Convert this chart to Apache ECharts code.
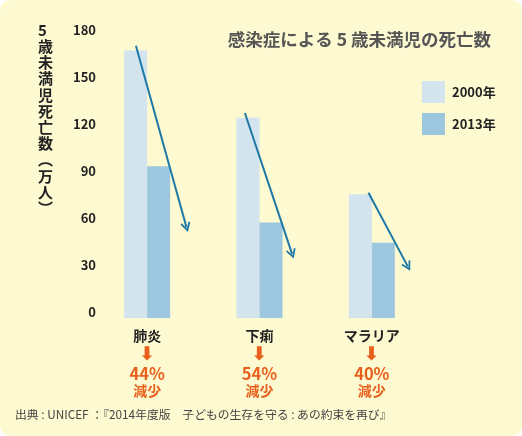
<!DOCTYPE html>
<html lang="ja">
<head>
<meta charset="UTF-8">
<title>感染症による5歳未満児の死亡数</title>
<script src="https://cdn.jsdelivr.net/npm/echarts@6/dist/echarts.min.js"></script>
<style>
    html, body {margin: 0; padding: 0; background: #fff;}
    #main {width: 522px; height: 436px; background: #fdf9d0; border-radius: 10px;}
</style>
</head>
<body>
<div id="main"></div>
<script type="text/javascript">
    var categories = ['肺炎', '下痢', 'マラリア'];
    var deaths2000 = [167, 124, 75];
    var deaths2013 = [93, 57, 44];
    var reductions = ['44%', '54%', '40%'];
    var yTicks = [0, 30, 60, 90, 120, 150, 180];
    // 矢印の始点・終点 [カテゴリ位置, 値]
    var arrowFrom = [[-0.1, 170], [0.87, 127], [1.97, 76]];
    var arrowTo = [[0.35, 54], [1.29, 37], [2.32, 29]];

    var orange = '#e8601c';
    var font = '"Noto Sans CJK JP", "Noto Sans", sans-serif';

    var arrowLines = [];
    for (var i = 0; i < arrowFrom.length; i++) {
        arrowLines.push({coords: [arrowFrom[i], arrowTo[i]]});
    }

    var chart = echarts.init(document.getElementById('main'));
    var option = {
        textStyle: {fontFamily: font},
        title: {
            text: '感染症による 5 歳未満児の死亡数',
            right: 26,
            top: 26,
            textStyle: {fontSize: 17.5, fontWeight: 'bold', color: '#555', fontFamily: font}
        },
        legend: {
            orient: 'vertical',
            left: 417,
            top: 76,
            itemWidth: 23,
            itemHeight: 22,
            itemGap: 10,
            icon: 'rect',
            textStyle: {fontSize: 13, fontWeight: 'bold', color: '#222', padding: [0, 0, 0, 2]},
            data: ['2000年', '2013年']
        },
        grid: {left: 91, right: 94, top: 30, bottom: 118},
        xAxis: [{
            type: 'category',
            data: categories,
            axisLine: {show: false},
            axisTick: {show: false},
            axisLabel: {
                margin: 9,
                fontSize: 14,
                fontWeight: 'bold',
                color: '#222',
                lineHeight: 18,
                formatter: function (v, idx) {
                    return v + '\n{a|⬇}\n{p|' + reductions[idx] + '}\n{q|減少}';
                },
                rich: {
                    a: {color: orange, fontSize: 19, lineHeight: 20, fontFamily: 'DejaVu Sans'},
                    p: {color: orange, fontSize: 16.5, fontWeight: 'bold', lineHeight: 17},
                    q: {color: orange, fontSize: 14, fontWeight: 'bold', lineHeight: 17}
                }
            }
        }, {
            type: 'value',
            min: -0.5,
            max: 2.5,
            show: false
        }],
        yAxis: {
            type: 'value',
            min: -4,
            max: 180,
            startValue: -4,
            axisLine: {show: false},
            axisTick: {show: false},
            splitLine: {show: false},
            axisLabel: {
                customValues: yTicks,
                margin: -5,
                fontSize: 13,
                fontWeight: 'bold',
                color: '#222'
            }
        },
        graphic: [{
            type: 'text',
            left: 38,
            top: 22,
            style: {
                text: ['5', '歳', '未', '満', '児', '死', '亡', '数', '︵', '万', '人', '︶'].join('\n'),
                fontSize: 15,
                fontWeight: 'bold',
                lineHeight: 16.2,
                fill: '#222',
                align: 'center',
                fontFamily: font
            }
        }, {
            type: 'text',
            left: 15,
            top: 409,
            style: {
                text: '出典 : UNICEF ：『2014年度版　子どもの生存を守る : あの約束を再び』',
                fontSize: 11.8,
                fill: '#444',
                fontFamily: font
            }
        }],
        series: [{
            name: '2000年',
            type: 'bar',
            barWidth: 23,
            barGap: 0,
            itemStyle: {color: '#d3e4ee'},
            data: deaths2000
        }, {
            name: '2013年',
            type: 'bar',
            barWidth: 23,
            itemStyle: {color: '#9dc7de'},
            data: deaths2013
        }, {
            type: 'lines',
            coordinateSystem: 'cartesian2d',
            xAxisIndex: 1,
            yAxisIndex: 0,
            z: 10,
            symbol: ['none', 'path://M5,0 L10,8 L8.6,9 L5,3.2 L1.4,9 L0,8 Z'],
            symbolSize: [11, 10],
            lineStyle: {color: '#1d78a6', width: 2, opacity: 1},
            silent: true,
            data: arrowLines
        }]
    };
    chart.setOption(option);
</script>
</body>
</html>
